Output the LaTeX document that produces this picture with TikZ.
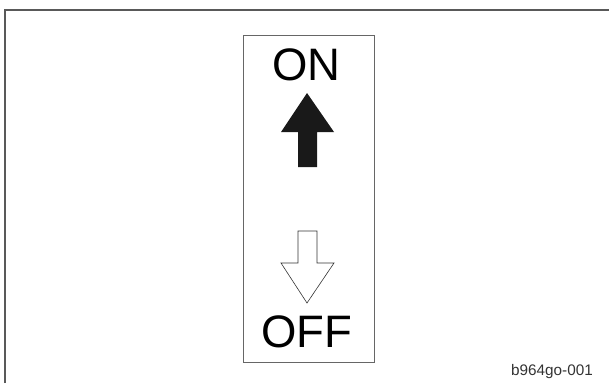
\documentclass[tikz,border=0pt]{standalone}
\usepackage{fontspec}
\setmainfont{Liberation Sans}
\begin{document}
\begin{tikzpicture}[x=1pt,y=-1pt,
  frameline/.style={draw=black!65,line width=1.6pt},
  boxline/.style={draw=black!60,line width=1pt},
  bigtext/.style={inner sep=0pt,anchor=base,font=\fontsize{45.5}{45.5}\selectfont},
  smalltext/.style={inner sep=0pt,anchor=base east,text=black!80,font=\fontsize{15.3}{15.3}\selectfont}]
\useasboundingbox (0,0) rectangle (609,383);
% outer frame (cropped)
\coordinate (fbl) at (5,383);
\coordinate (ftl) at (5,10);
\coordinate (ftr) at (609,10);
\draw[frameline] (fbl) -- (ftl) -- (ftr);
% inner panel
\node[boxline,minimum width=131pt,minimum height=327pt,inner sep=0pt,anchor=north west] (panel) at (242.5,35) {};
\node[bigtext] (on) at (306.5,80.5) {ON};
\node[bigtext] (off) at (307,347) {OFF};
% solid up arrow
\fill[black!90] (307,93) -- (334,132) -- (317,132) -- (317,167) -- (298,167) -- (298,132) -- (281,132) -- cycle;
% outline down arrow
\draw[black!80,line width=0.6pt,line join=miter] (298,231) -- (317,231) -- (317,263) -- (334,263) -- (307,303) -- (281,263) -- (298,263) -- cycle;
\node[smalltext] (code) at (593,375) {b964go-001};
\end{tikzpicture}
\end{document}
